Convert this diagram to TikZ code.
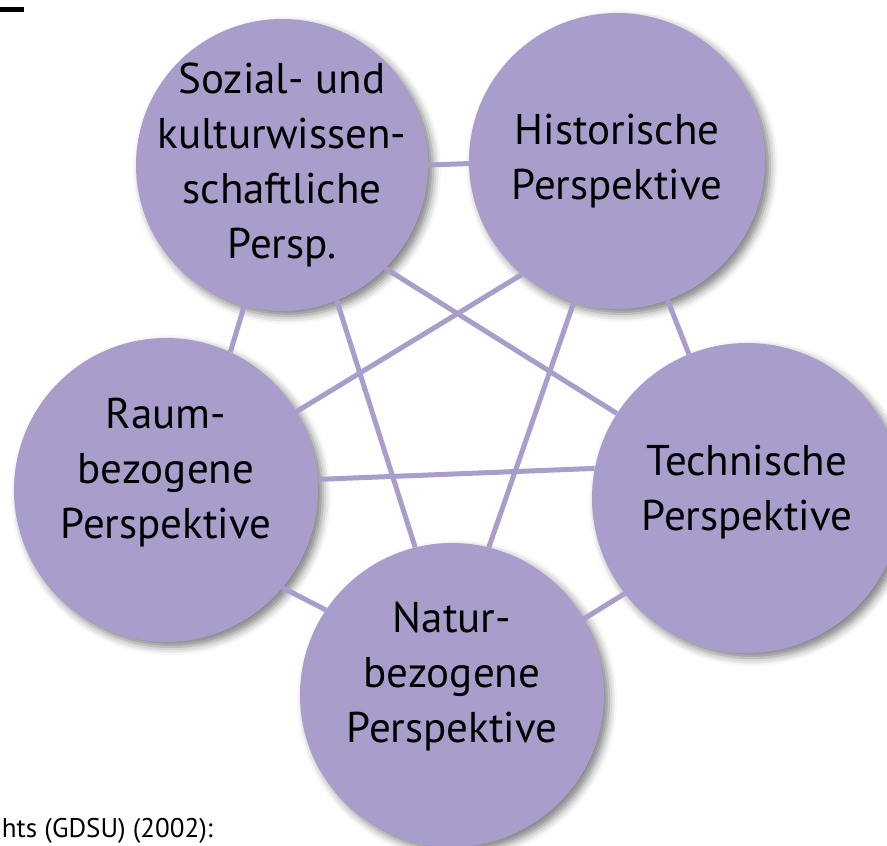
\documentclass[tikz,border=0pt]{standalone}
\usepackage{fontspec}
\setmainfont{PT Sans}
\usetikzlibrary{shadows.blur}
\definecolor{perspviolet}{RGB}{169,157,203}

\begin{document}
\begin{tikzpicture}[
    x=1pt, y=-1pt,
    persp/.style={circle, fill=perspviolet, inner sep=0pt,
      blur shadow={shadow xshift=5pt, shadow yshift=-5pt, shadow blur radius=8pt, shadow opacity=50}},
    txt/.style={align=center, font=\fontsize{43}{55}\selectfont},
    link/.style={draw=perspviolet, line width=5pt},
  ]
  \useasboundingbox (0,0) rectangle (887,846);

  \fill (0,7) rectangle (24,12);

  \node[persp, minimum size=292pt,
    label={[txt]center:{Sozial- und\\kulturwissen-\\schaftliche\\Persp.}}] (sozial) at (282,165) {};
  \node[persp, minimum size=296pt,
    label={[txt]center:{Historische\\Perspektive}}] (hist) at (617,161) {};
  \node[persp, minimum size=304pt,
    label={[txt, yshift=17pt]center:{Raum-\\bezogene\\Perspektive}}] (raum) at (166,490) {};
  \node[persp, minimum size=310pt,
    label={[txt, yshift=6pt]center:{Technische\\Perspektive}}] (tech) at (747,498) {};
  \node[persp, minimum size=304pt,
    label={[txt, yshift=18pt]center:{Natur-\\bezogene\\Perspektive}}] (natur) at (452,695) {};

  % connections between the perspectives
  \draw[link] (sozial.0) -- (hist.181);
  \draw[link] (sozial.255) -- (raum.65);
  \draw[link] (hist.290) -- (tech.112);
  \draw[link] (raum.320) -- (natur.146);
  \draw[link] (natur.30) -- (tech.218);
  \draw[link] (raum.4) -- (tech.169);
  \draw[link] (raum.31) -- (hist.230);
  \draw[link] (sozial.315) -- (tech.147);
  \draw[link] (sozial.292) -- (natur.104);
  \draw[link] (hist.253) -- (natur.76);

  \node[anchor=base east, inner sep=0pt, font=\fontsize{27}{31}\selectfont] (quelle) at (213,837) {hts (GDSU) (2002):};
\end{tikzpicture}
\end{document}
